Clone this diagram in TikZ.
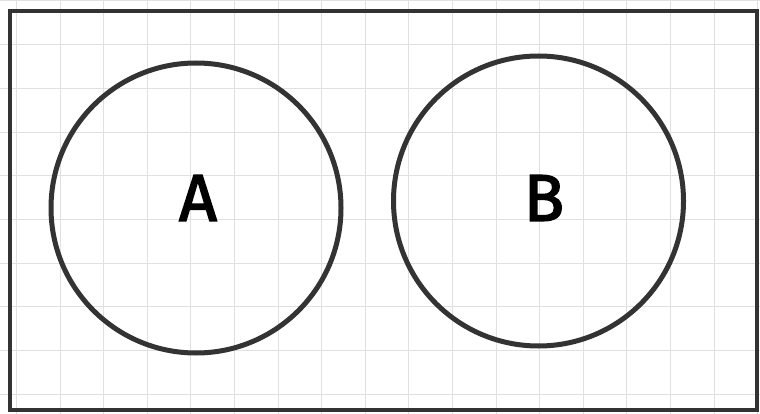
\documentclass[tikz,border=0pt]{standalone}
\usepackage{fontspec}
\setmainfont{Fira Sans}
\newfontfamily\setfont{Fira Sans}[FakeBold=2.5]
\begin{document}
\begin{tikzpicture}[
  x=1pt, y=-1pt,
  gridline/.style={draw=black!12, line width=1pt},
  frame/.style={draw=black!80, line width=4pt},
  setnode/.style={circle, draw=black!80, line width=5pt, inner sep=0pt, minimum size=290pt},
  setlabel/.style={inner sep=0pt, font=\setfont\fontsize{66}{66}\selectfont}
]
  \useasboundingbox (0,0) rectangle (760,414);

  % Cuadricula de fondo
  \foreach \i in {0,...,17} {
    \draw[gridline] (16.4+43.6*\i,0) -- (16.4+43.6*\i,414);
  }
  \foreach \j in {0,...,9} {
    \draw[gridline] (0,1+43.7*\j) -- (760,1+43.7*\j);
  }

  % Marco
  \draw[frame] (9.5,11) rectangle (757,410);

  % Conjuntos
  \node[setnode] (a) at (196,208) {};   % Circulo izquierdo
  \node[setnode] (b) at (538.5,201) {}; % Circulo derecho

  % Etiquetas
  \node[setlabel] (la) at (198,198) {A};
  \node[setlabel] (lb) at (544,198) {B};
\end{tikzpicture}
\end{document}
